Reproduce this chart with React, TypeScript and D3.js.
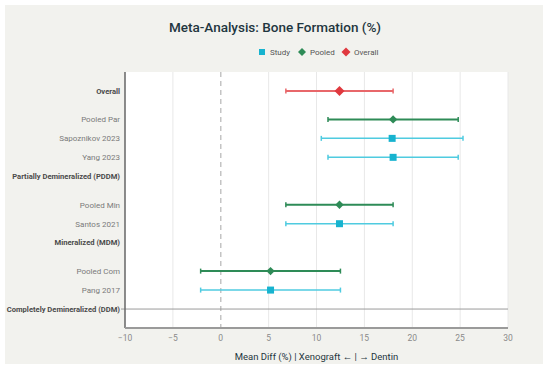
import { useEffect, useRef } from 'react';
import * as d3 from 'd3';

// rows, bottom to top, with position on the y scale
const rowLabels = [
  'Completely Demineralized (DDM)', 'Pang 2017', 'Pooled Com',
  'Mineralized (MDM)', 'Santos 2021', 'Pooled Min',
  'Partially Demineralized (PDDM)', 'Yang 2023', 'Sapoznikov 2023', 'Pooled Par',
  'Overall',
];
const rowPos = [0, 1, 2, 3.5, 4.5, 5.5, 7, 8, 9, 10, 11.5];
const headerRows = ['Completely Demineralized (DDM)', 'Mineralized (MDM)', 'Partially Demineralized (PDDM)', 'Overall'];

// estimates
const estLabels = ['Pang 2017', 'Pooled Com', 'Santos 2021', 'Pooled Min', 'Yang 2023', 'Sapoznikov 2023', 'Pooled Par', 'Overall'];
const estKind = ['study', 'pooled', 'study', 'pooled', 'study', 'study', 'pooled', 'overall'];
const estMean = [5.2, 5.2, 12.4, 12.4, 18.0, 17.9, 18.0, 12.4];
const estLow = [-2.1, -2.1, 6.8, 6.8, 11.2, 10.5, 11.2, 6.8];
const estHigh = [12.5, 12.5, 18.0, 18.0, 24.8, 25.3, 24.8, 18.0];

const xTicks = [-10, -5, 0, 5, 10, 15, 20, 25, 30];
const legendItems = ['Study', 'Pooled', 'Overall'];

const colors: Record<string, { line: string; mark: string }> = {
  study: { line: '#4fcbe0', mark: '#17b3cf' },
  pooled: { line: '#2e8b57', mark: '#2e8b57' },
  overall: { line: '#e8676a', mark: '#e0393f' },
};

const App = () => {
  const ref = useRef<SVGSVGElement>(null);

  useEffect(() => {
    const svg = d3.select(ref.current);
    svg.selectAll('*').remove();

    const W = 550, H = 371;
    const margin = { top: 72, right: 42, bottom: 43, left: 125 };
    const width = W - margin.left - margin.right;
    const height = H - margin.top - margin.bottom;
    const font = 'Roboto, "Liberation Sans", sans-serif';

    // panel background
    svg.append('rect')
      .attr('x', 5).attr('y', 5).attr('width', 538).attr('height', 359)
      .attr('fill', '#f2f2ee');

    const g = svg.append('g').attr('transform', `translate(${margin.left},${margin.top})`);

    g.append('rect').attr('width', width).attr('height', height).attr('fill', '#fff');

    const x = d3.scaleLinear().domain([-10, 30]).range([0, width]);
    const y = d3.scaleLinear().domain([-1, 12.5]).range([height, 0]);

    // vertical grid
    g.selectAll('.grid')
      .data(xTicks.filter(t => t !== 0 && t !== -10))
      .enter().append('line')
      .attr('x1', d => x(d)).attr('x2', d => x(d))
      .attr('y1', 0).attr('y2', height)
      .attr('stroke', '#e8e8e8').attr('stroke-width', 1);

    // zero line
    g.append('line')
      .attr('x1', x(0)).attr('x2', x(0)).attr('y1', 0).attr('y2', height)
      .attr('stroke', '#c4c4c4').attr('stroke-width', 1.5).attr('stroke-dasharray', '5,4');

    // reference line at the bottom row
    g.append('line')
      .attr('x1', -4).attr('x2', width).attr('y1', y(0)).attr('y2', y(0))
      .attr('stroke', '#9a9a9a').attr('stroke-width', 1);

    // axes lines
    g.append('line')
      .attr('x1', 0).attr('x2', 0).attr('y1', 0).attr('y2', height)
      .attr('stroke', '#666').attr('stroke-width', 1.5);
    g.append('line')
      .attr('x1', 0).attr('x2', width).attr('y1', height).attr('y2', height)
      .attr('stroke', '#9a9a9a').attr('stroke-width', 2);

    // x tick labels
    g.selectAll('.xt')
      .data(xTicks)
      .enter().append('text')
      .attr('x', d => x(d)).attr('y', height + 13)
      .attr('text-anchor', 'middle')
      .attr('font-family', font).attr('font-size', 8.5).attr('fill', '#8a8a8a')
      .text(d => (d < 0 ? `\u2212${-d}` : `${d}`));

    // y labels
    g.selectAll('.yl')
      .data(rowLabels)
      .enter().append('text')
      .attr('x', -5).attr('y', (d, i) => y(rowPos[i]))
      .attr('dy', '0.35em')
      .attr('text-anchor', 'end')
      .attr('font-family', font)
      .attr('font-size', d => (headerRows.includes(d) ? 7.6 : 8))
      .attr('font-weight', d => (headerRows.includes(d) ? 700 : 400))
      .attr('fill', d => (headerRows.includes(d) ? '#4a4a4a' : '#7a7a7a'))
      .text(d => d);

    const rowY = (label: string) => y(rowPos[rowLabels.indexOf(label)]);

    // error bars
    estLabels.forEach((label, i) => {
      const c = colors[estKind[i]];
      const yy = rowY(label);
      const sw = estKind[i] === 'study' ? 1.5 : 2;
      g.append('line')
        .attr('x1', x(estLow[i])).attr('x2', x(estHigh[i]))
        .attr('y1', yy).attr('y2', yy)
        .attr('stroke', c.line).attr('stroke-width', sw);
      [estLow[i], estHigh[i]].forEach(v => {
        g.append('line')
          .attr('x1', x(v)).attr('x2', x(v))
          .attr('y1', yy - 2.5).attr('y2', yy + 2.5)
          .attr('stroke', c.line).attr('stroke-width', 1.5);
      });
      const cx = x(estMean[i]);
      if (estKind[i] === 'study') {
        g.append('rect')
          .attr('x', cx - 3.5).attr('y', yy - 3.5).attr('width', 7).attr('height', 7)
          .attr('fill', c.mark);
      } else {
        const s = estKind[i] === 'overall' ? 5 : 4.2;
        g.append('path')
          .attr('d', `M${cx},${yy - s}L${cx + s},${yy}L${cx},${yy + s}L${cx - s},${yy}Z`)
          .attr('fill', c.mark);
      }
    });

    // title
    svg.append('text')
      .attr('x', 275).attr('y', 32)
      .attr('text-anchor', 'middle')
      .attr('font-family', font).attr('font-size', 13.5).attr('font-weight', 500)
      .attr('fill', '#1f3640')
      .text('Meta-Analysis: Bone Formation (%)');

    // legend
    const legendX = [262, 302, 346];
    const legendKinds = ['study', 'pooled', 'overall'];
    legendItems.forEach((item, i) => {
      const lx = legendX[i], ly = 52;
      const c = colors[legendKinds[i]];
      if (i === 0) {
        svg.append('rect').attr('x', lx - 3).attr('y', ly - 3).attr('width', 6).attr('height', 6).attr('fill', c.mark);
      } else {
        const s = i === 2 ? 4.5 : 4;
        svg.append('path')
          .attr('d', `M${lx},${ly - s}L${lx + s},${ly}L${lx},${ly + s}L${lx - s},${ly}Z`)
          .attr('fill', c.mark);
      }
      svg.append('text')
        .attr('x', lx + 8).attr('y', ly).attr('dy', '0.35em')
        .attr('font-family', font).attr('font-size', 8).attr('fill', '#555')
        .text(item);
    });

    // x axis title
    svg.append('text')
      .attr('x', margin.left + width / 2).attr('y', 360)
      .attr('text-anchor', 'middle')
      .attr('font-family', font).attr('font-size', 9.5).attr('fill', '#1f3640')
      .text('Mean Diff (%) | Xenograft \u2190 | \u2192 Dentin');
  }, []);

  return <svg ref={ref} width={550} height={371} style={{ position: 'absolute', left: 0, top: 0 }} />;
};

export default App;
